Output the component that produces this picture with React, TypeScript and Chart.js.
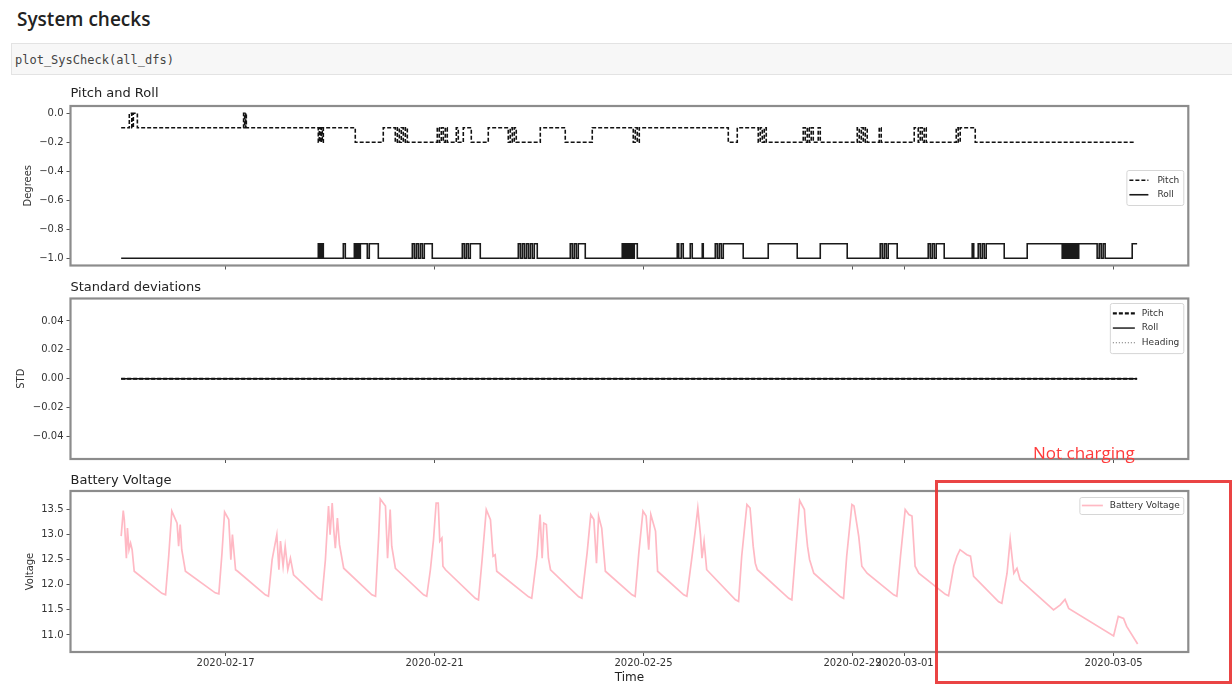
import React, { useEffect, useRef } from 'react';
import { Chart, registerables } from 'chart.js';

Chart.register(...registerables);
Chart.defaults.font.family = "'DejaVu Sans', sans-serif";
Chart.defaults.color = '#333';

// ---------- data (x = day of February 2020; 30 = 2020-03-01) ----------
const X_MIN = 14.03;
const X_MAX = 35.43;
const xTickDays = [17, 21, 25, 29, 30, 34];
const xTickLabels = ['2020-02-17', '2020-02-21', '2020-02-25', '2020-02-29', '2020-03-01', '2020-03-05'];

const pitchRollTicks = [0, -0.2, -0.4, -0.6, -0.8, -1.0];
const stdTicks = [0.04, 0.02, 0, -0.02, -0.04];
const voltTicks = [13.5, 13.0, 12.5, 12.0, 11.5, 11.0];

// [day, degrees] – value takes effect at that time (step series)
const pitchSteps: [number, number][] = [
  [15.0, -0.1],
  [15.156, 0.0], [15.204, -0.1], [15.233, 0.0], [15.31, -0.1],
  [17.344, 0.0], [17.364, -0.1], [17.383, 0.0], [17.396, -0.1],
  [18.774, -0.2], [18.794, -0.1], [18.813, -0.2], [18.832, -0.1], [18.851, -0.2], [18.87, -0.1],
  [19.482, -0.2],
  [20.018, -0.1],
  [20.248, -0.2], [20.287, -0.1], [20.325, -0.2], [20.363, -0.1], [20.401, -0.2], [20.44, -0.1], [20.478, -0.2],
  [21.052, -0.1], [21.09, -0.2], [21.129, -0.1], [21.167, -0.2], [21.205, -0.1], [21.243, -0.2],
  [21.416, -0.1], [21.454, -0.2],
  [21.55, -0.1], [21.703, -0.2],
  [22.028, -0.1],
  [22.411, -0.2], [22.449, -0.1], [22.488, -0.2], [22.526, -0.1], [22.564, -0.2],
  [23.024, -0.1],
  [23.502, -0.2],
  [24.019, -0.1],
  [24.804, -0.2], [24.842, -0.1], [24.88, -0.2], [24.919, -0.1],
  [26.623, -0.2],
  [26.795, -0.1],
  [27.197, -0.2], [27.235, -0.1], [27.274, -0.2], [27.312, -0.1], [27.35, -0.2],
  [28.058, -0.1], [28.096, -0.2], [28.135, -0.1], [28.173, -0.2], [28.211, -0.1], [28.25, -0.2], [28.345, -0.1], [28.384, -0.2],
  [29.092, -0.1], [29.13, -0.2], [29.169, -0.1], [29.207, -0.2], [29.245, -0.1], [29.283, -0.2],
  [29.513, -0.1], [29.551, -0.2],
  [30.183, -0.1],
  [30.26, -0.2], [30.298, -0.1], [30.336, -0.2], [30.374, -0.1], [30.413, -0.2],
  [30.987, -0.1], [31.025, -0.2], [31.063, -0.1],
  [31.351, -0.2],
  [34.4, -0.2],
];

const rollSteps: [number, number][] = [
  [15.0, -1.0],
  [18.774, -0.9], [18.794, -1.0], [18.813, -0.9], [18.832, -1.0], [18.851, -0.9], [18.87, -1.0],
  [19.253, -0.9], [19.291, -1.0],
  [19.464, -0.9], [19.492, -1.0], [19.521, -0.9], [19.55, -1.0], [19.579, -0.9], [19.712, -1.0], [19.75, -0.9], [19.923, -1.0],
  [20.574, -0.9], [20.612, -1.0], [20.65, -0.9], [20.688, -1.0], [20.727, -0.9], [20.765, -1.0], [20.803, -0.9], [20.956, -1.0],
  [21.531, -0.9], [21.569, -1.0], [21.607, -0.9], [21.645, -1.0], [21.684, -0.9], [21.875, -1.0],
  [22.603, -0.9], [22.641, -1.0], [22.679, -0.9], [22.717, -1.0], [22.756, -0.9], [22.794, -1.0], [22.832, -0.9], [22.871, -1.0], [22.909, -0.9], [22.966, -1.0],
  [23.598, -0.9], [23.636, -1.0], [23.674, -0.9], [23.713, -1.0], [23.751, -0.9], [23.885, -1.0],
  [24.593, -0.9], [24.622, -1.0], [24.651, -0.9], [24.68, -1.0], [24.709, -0.9], [24.737, -1.0], [24.766, -0.9], [24.795, -1.0], [24.823, -0.9], [24.881, -1.0],
  [25.646, -0.9], [25.675, -1.0], [25.723, -0.9], [25.761, -1.0], [25.895, -0.9], [25.933, -1.0], [26.125, -0.9], [26.144, -1.0],
  [26.374, -0.9], [26.412, -1.0], [26.45, -0.9], [26.489, -1.0], [26.527, -0.9], [26.909, -1.0],
  [27.388, -0.9], [27.943, -1.0],
  [28.384, -0.9], [28.9, -1.0],
  [29.532, -0.9], [29.57, -1.0], [29.609, -0.9], [29.647, -1.0], [29.685, -0.9], [29.857, -1.0],
  [30.451, -0.9], [30.489, -1.0], [30.527, -0.9], [30.566, -1.0], [30.604, -0.9], [30.757, -1.0],
  [31.293, -0.9], [31.322, -1.0], [31.408, -0.9], [31.446, -1.0], [31.485, -0.9], [31.523, -1.0], [31.561, -0.9], [31.906, -1.0],
  [32.346, -0.9], [33.016, -1.0], [33.044, -0.9], [33.073, -1.0], [33.102, -0.9], [33.131, -1.0], [33.16, -0.9], [33.188, -1.0],
  [33.217, -0.9], [33.246, -1.0], [33.275, -0.9], [33.303, -1.0], [33.332, -0.9], [33.685, -1.0], [33.724, -0.9], [33.762, -1.0],
  [33.8, -0.9], [33.838, -1.0],
  [34.356, -0.9], [34.45, -0.9],
];

const stdDays = [15.0, 34.45];
const pitchStd = [0, 0];
const rollStd = [0, 0];
const headingStd = [0, 0];

// [day, volts]
const battery: [number, number][] = [
  [15.0, 12.97], [15.04, 13.48], [15.06, 13.3], [15.1, 12.53], [15.12, 13.13], [15.15, 12.7], [15.18, 12.83], [15.21, 12.7], [15.25, 12.27], [15.78, 11.83], [15.85, 11.8],
  [15.91, 12.57], [15.97, 13.47], [16.07, 13.23], [16.1, 12.77], [16.13, 13.2], [16.16, 12.7], [16.23, 12.27], [16.8, 11.84], [16.87, 11.82],
  [16.93, 12.63], [16.98, 13.45], [17.06, 13.3], [17.1, 12.5], [17.13, 13.0], [17.19, 12.3], [17.23, 12.27], [17.76, 11.8], [17.82, 11.77],
  [17.89, 12.5], [17.98, 13.0], [18.02, 12.3], [18.05, 12.87], [18.1, 12.37], [18.14, 12.77], [18.19, 12.3], [18.24, 12.53], [18.3, 12.2], [18.78, 11.73], [18.84, 11.7],
  [18.91, 12.5], [18.97, 13.57], [19.0, 13.0], [19.04, 13.63], [19.07, 13.1], [19.1, 12.73], [19.14, 13.33], [19.18, 12.8], [19.26, 12.33], [19.8, 11.8], [19.87, 11.77],
  [19.93, 12.97], [19.96, 13.71], [20.06, 13.57], [20.1, 12.53], [20.15, 13.5], [20.18, 12.77], [20.25, 12.33], [20.31, 12.27], [20.79, 11.8], [20.85, 11.77],
  [20.92, 12.3], [20.98, 12.9], [21.03, 13.63], [21.07, 13.63], [21.1, 12.87], [21.14, 12.93], [21.16, 12.37], [21.21, 12.3], [21.78, 11.73], [21.84, 11.7],
  [21.91, 12.5], [21.99, 13.5], [22.07, 13.3], [22.12, 12.57], [22.16, 12.6], [22.19, 12.27], [22.8, 11.76], [22.86, 11.73],
  [22.96, 12.57], [23.02, 13.4], [23.06, 12.53], [23.09, 13.23], [23.14, 13.2], [23.18, 12.53], [23.22, 12.3], [23.76, 11.76], [23.82, 11.73],
  [23.92, 12.63], [23.99, 13.4], [24.05, 13.3], [24.1, 12.43], [24.14, 13.37], [24.2, 13.13], [24.27, 12.27], [24.78, 11.8], [24.84, 11.77],
  [24.91, 12.63], [24.99, 13.47], [25.05, 13.37], [25.1, 12.7], [25.14, 13.4], [25.23, 13.07], [25.27, 12.27], [25.77, 11.8], [25.83, 11.77],
  [25.93, 12.57], [25.99, 13.07], [26.04, 13.53], [26.09, 13.0], [26.12, 12.53], [26.16, 12.87], [26.21, 12.3], [26.76, 11.7], [26.82, 11.67],
  [26.88, 12.57], [26.98, 13.6], [27.04, 13.53], [27.1, 12.77], [27.14, 12.43], [27.18, 12.3], [27.78, 11.73], [27.84, 11.7],
  [27.91, 12.63], [27.99, 13.68], [28.08, 13.5], [28.1, 13.2], [28.14, 12.77], [28.18, 12.5], [28.26, 12.23], [28.77, 11.76], [28.83, 11.73],
  [28.89, 12.57], [28.99, 13.6], [29.03, 13.57], [29.12, 12.97], [29.18, 12.37], [29.28, 12.23], [29.79, 11.8], [29.85, 11.77],
  [29.92, 12.57], [30.01, 13.5], [30.08, 13.4], [30.14, 13.37], [30.2, 12.37], [30.27, 12.23], [30.78, 11.81], [30.84, 11.78],
  [30.94, 12.37], [31.0, 12.57], [31.06, 12.7], [31.19, 12.6], [31.26, 12.57], [31.32, 12.17], [31.8, 11.66], [31.86, 11.63],
  [31.96, 12.23], [32.02, 12.9], [32.09, 12.23], [32.15, 12.33], [32.21, 12.1], [32.85, 11.5], [32.98, 11.6], [33.07, 11.71], [33.14, 11.53],
  [34.0, 10.98], [34.09, 11.37], [34.19, 11.33], [34.25, 11.17], [34.46, 10.82],
];

// ---------- helpers ----------
const fmt = (v: number, d: number) => {
  const s = Math.abs(v) < 1e-9 ? (0).toFixed(d) : v.toFixed(d);
  return s.replace('-', '\u2212');
};

const framePlugin = {
  id: 'frame',
  afterDatasetsDraw(chart: any) {
    const { ctx, chartArea: a } = chart;
    ctx.save();
    ctx.strokeStyle = '#8c8c8c';
    ctx.lineWidth = 2.2;
    ctx.strokeRect(a.left, a.top, a.right - a.left, a.bottom - a.top);
    ctx.restore();
  },
};

const boxLegendPlugin = {
  id: 'boxLegend',
  afterDraw(chart: any, _args: any, opts: any) {
    if (!opts || !opts.show) return;
    const { ctx, chartArea } = chart;
    const ds = chart.data.datasets;
    ctx.save();
    ctx.font = "9px 'DejaVu Sans'";
    const textW = Math.max(...ds.map((d: any) => ctx.measureText(d.label).width));
    const boxW = opts.pad + opts.handle + opts.gap + textW + opts.pad + 1;
    const boxH = opts.pad * 2 + opts.rowH * ds.length;
    const right = chartArea.right - opts.right;
    const left = right - boxW;
    const top = chartArea.top + opts.top;
    ctx.fillStyle = 'rgba(255,255,255,0.85)';
    ctx.strokeStyle = '#d6d6d6';
    ctx.lineWidth = 1;
    ctx.beginPath();
    ctx.roundRect(left + 0.5, top + 0.5, boxW, boxH, 2);
    ctx.fill();
    ctx.stroke();
    ds.forEach((d: any, i: number) => {
      const y = top + opts.pad + opts.rowH * (i + 0.5);
      ctx.beginPath();
      ctx.setLineDash(d.borderDash || []);
      ctx.strokeStyle = d.borderColor;
      ctx.lineWidth = d.borderWidth;
      ctx.moveTo(left + opts.pad, y);
      ctx.lineTo(left + opts.pad + opts.handle, y);
      ctx.stroke();
      ctx.setLineDash([]);
      ctx.fillStyle = '#333';
      ctx.textAlign = 'left';
      ctx.textBaseline = 'middle';
      ctx.fillText(d.label, left + opts.pad + opts.handle + opts.gap, y);
    });
    ctx.restore();
  },
};

function xScale(showLabels: boolean, height: number, withTitle: boolean) {
  return {
    type: 'linear',
    min: X_MIN,
    max: X_MAX,
    afterBuildTicks: (s: any) => {
      s.ticks = xTickDays.map((v) => ({ value: v }));
    },
    afterFit: (s: any) => {
      s.height = height;
    },
    ticks: {
      display: showLabels,
      autoSkip: false,
      maxRotation: 0,
      minRotation: 0,
      padding: 1,
      color: '#333',
      font: { size: 10 },
      callback: (v: any) => {
        const i = xTickDays.indexOf(Number(v));
        return i >= 0 ? xTickLabels[i] : '';
      },
    },
    grid: { drawOnChartArea: false, drawTicks: true, tickLength: 4, tickColor: '#555' },
    border: { display: false },
    title: withTitle
      ? { display: true, text: 'Time', color: '#222', font: { size: 12, lineHeight: 1 }, padding: { top: 0, bottom: 0 } }
      : { display: false },
  };
}

function yScale(min: number, max: number, ticks: number[], digits: number, title: string, titleX: number) {
  return {
    type: 'linear',
    min,
    max,
    afterBuildTicks: (s: any) => {
      s.ticks = ticks.map((v) => ({ value: v }));
    },
    afterFit: (s: any) => {
      s.width = 70.5;
    },
    ticks: { color: '#333', font: { size: 10 }, padding: 3, callback: (v: any) => fmt(Number(v), digits) },
    grid: { drawOnChartArea: false, drawTicks: true, tickLength: 4, tickColor: '#555' },
    border: { display: false },
    title: { display: true, text: title, color: '#333', font: { size: 10, lineHeight: 1.2 }, padding: { top: titleX - 6, bottom: 0 } },
  };
}

function titleOpts(text: string, padTop: number, padBottom: number) {
  return {
    display: true,
    text,
    align: 'start',
    fullSize: false,
    color: '#222',
    font: { size: 13, weight: 'normal', lineHeight: 1.2 },
    padding: { top: padTop, bottom: padBottom },
  };
}

function baseOptions() {
  return {
    responsive: false,
    animation: false,
    events: [],
    layout: { padding: { left: 0, right: 43.7, top: 0, bottom: 0 } },
  };
}

function pitchRollConfig(): any {
  return {
    type: 'line',
    data: {
      datasets: [
        { label: 'Pitch', data: pitchSteps.map(([x, y]) => ({ x, y })), borderColor: '#111', borderWidth: 1.6, borderDash: [4, 2], stepped: true, pointRadius: 0, fill: false },
        { label: 'Roll', data: rollSteps.map(([x, y]) => ({ x, y })), borderColor: '#1a1a1a', borderWidth: 1.6, stepped: true, pointRadius: 0, fill: false },
      ],
    },
    options: {
      ...baseOptions(),
      scales: { x: xScale(false, 14.5, false), y: yScale(-1.05, 0.05, pitchRollTicks, 1, 'Degrees', 28.3) },
      plugins: {
        legend: { display: false },
        tooltip: { enabled: false },
        title: titleOpts('Pitch and Roll', 6.2, 4.2),
        boxLegend: { show: true, right: 5, top: 64, pad: 3, rowH: 14.5, handle: 19, gap: 9 },
      },
    },
    plugins: [framePlugin, boxLegendPlugin],
  };
}

function stdConfig(): any {
  const mk = (vals: number[]) => stdDays.map((x, i) => ({ x, y: vals[i] }));
  return {
    type: 'line',
    data: {
      datasets: [
        { label: 'Pitch', data: mk(pitchStd), borderColor: '#111', borderWidth: 2.2, borderDash: [4, 2], pointRadius: 0, fill: false },
        { label: 'Roll', data: mk(rollStd), borderColor: '#111', borderWidth: 1.4, pointRadius: 0, fill: false },
        { label: 'Heading', data: mk(headingStd), borderColor: '#666', borderWidth: 1, borderDash: [1, 2], pointRadius: 0, fill: false },
      ],
    },
    options: {
      ...baseOptions(),
      scales: { x: xScale(false, 14, false), y: yScale(-0.0555, 0.0555, stdTicks, 2, 'STD', 21.7) },
      plugins: {
        legend: { display: false },
        tooltip: { enabled: false },
        title: titleOpts('Standard deviations', 6.7, 3.2),
        boxLegend: { show: true, right: 5, top: 4.5, pad: 3, rowH: 14.7, handle: 22, gap: 7 },
      },
    },
    plugins: [framePlugin, boxLegendPlugin],
  };
}

function batteryConfig(): any {
  return {
    type: 'line',
    data: {
      datasets: [
        { label: 'Battery Voltage', data: battery.map(([x, y]) => ({ x, y })), borderColor: '#ffb9c4', borderWidth: 1.7, pointRadius: 0, fill: false },
      ],
    },
    options: {
      ...baseOptions(),
      scales: { x: xScale(true, 32, true), y: yScale(10.66, 13.87, voltTicks, 1, 'Voltage', 30) },
      plugins: {
        legend: { display: false },
        tooltip: { enabled: false },
        title: titleOpts('Battery Voltage', 7.2, 2.2),
        boxLegend: { show: true, right: 5, top: 6, pad: 2.5, rowH: 12, handle: 21, gap: 7 },
      },
    },
    plugins: [framePlugin, boxLegendPlugin],
  };
}

function ChartCanvas({ top, height, makeConfig }: { top: number; height: number; makeConfig: () => any }) {
  const ref = useRef<HTMLCanvasElement>(null);
  useEffect(() => {
    const chart = new Chart(ref.current as HTMLCanvasElement, makeConfig());
    return () => chart.destroy();
  }, []);
  return (
    <canvas
      ref={ref}
      width={1232}
      height={height}
      style={{ position: 'absolute', left: 0, top, width: 1232, height, display: 'block' }}
    />
  );
}

export default function App() {
  return (
    <div style={{ position: 'absolute', left: 0, top: 0, width: 1232, height: 684, overflow: 'hidden', background: '#fff' }}>
      <div style={{ position: 'absolute', left: 17, top: 10, font: "600 19px 'Open Sans'", lineHeight: '19px', color: '#222', whiteSpace: 'nowrap' }}>
        System checks
      </div>
      <div style={{ position: 'absolute', left: 11, top: 43, width: 1240, height: 32, background: '#f7f7f7', border: '1px solid #e3e3e3', boxSizing: 'border-box' }} />
      <div style={{ position: 'absolute', left: 15, top: 54, font: "12px 'DejaVu Sans Mono'", lineHeight: '12px', color: '#444', whiteSpace: 'nowrap' }}>
        plot_SysCheck(all_dfs)
      </div>
      <ChartCanvas top={80} height={200} makeConfig={pitchRollConfig} />
      <ChartCanvas top={273} height={200} makeConfig={stdConfig} />
      <ChartCanvas top={466} height={218} makeConfig={batteryConfig} />
      <div style={{ position: 'absolute', left: 935, top: 480, width: 297, height: 204, border: '3px solid rgba(232,52,52,0.92)', boxSizing: 'border-box', pointerEvents: 'none' }} />
      <div style={{ position: 'absolute', left: 1033, top: 444, font: "17px 'Open Sans'", lineHeight: '17px', color: '#ff3b3b', whiteSpace: 'nowrap' }}>
        Not charging
      </div>
    </div>
  );
}
